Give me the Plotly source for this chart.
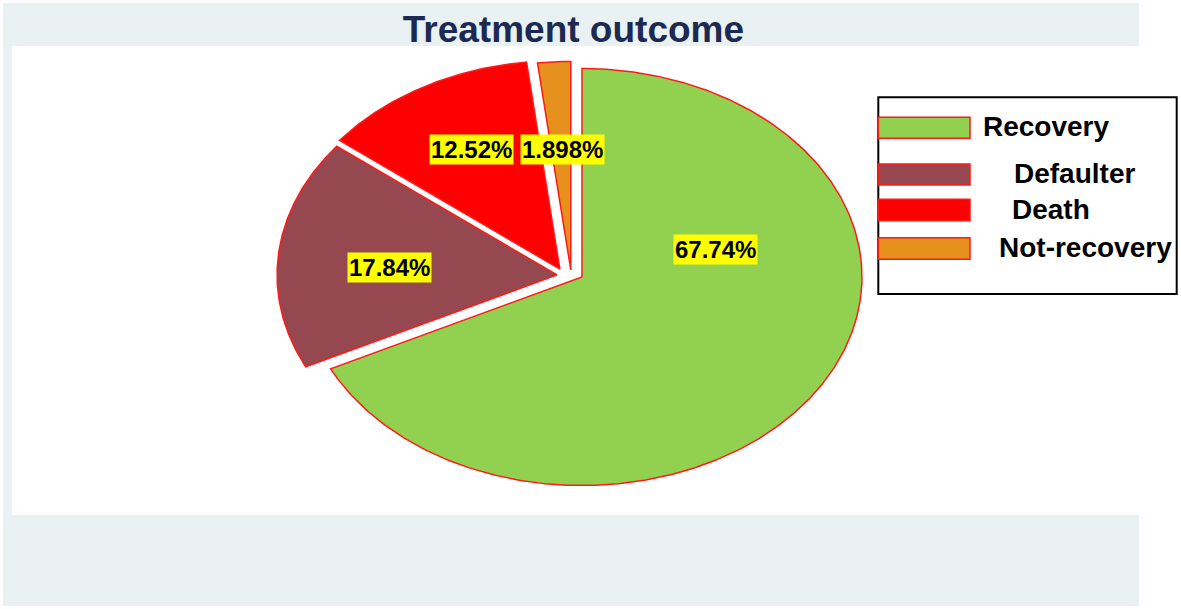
import numpy as np
import plotly.graph_objects as go

# ---------------- data ----------------
categories = ["Recovery", "Defaulter", "Death", "Not-recovery"]
percentages = [67.74, 17.84, 12.52, 1.898]
title_text = "Treatment outcome"

# ---------------- styles ----------------
slice_colors = ["#92d050", "#964850", "#ff0000", "#e6911e"]
outline_color = "#ff1a1a"
# explode offsets (in pie-radius units) for each slice
explode = [(0.0, 0.0), (-0.089, 0.010), (-0.079, 0.038), (-0.040, 0.034)]
# label anchor positions in pie-radius units (relative to pie centre)
label_pos = [(0.4775, 0.131), (-0.6875, 0.044), (-0.394, 0.6115), (-0.0696, 0.6115)]
# legend text x positions (px) and row centres (px)
legend_text_x = [981, 1012, 1010, 997]
legend_rows = [(117.3, 138.3), (164, 185), (199.3, 220.7), (237.7, 259.3)]

W, H = 1181, 609
CX, CY, RX, RY = 582, 277, 280, 208.5


def px(x):
    return x / W


def py(y):
    return 1 - y / H


fig = go.Figure()

total = sum(percentages)
cum = 0.0
for name, val, col, (dx, dy) in zip(categories, percentages, slice_colors, explode):
    a0 = cum / total * 2 * np.pi
    a1 = (cum + val) / total * 2 * np.pi
    cum += val
    n = max(int((a1 - a0) / (2 * np.pi) * 720), 8)
    th = np.linspace(a0, a1, n)
    xs = np.concatenate([[dx], dx + np.sin(th), [dx]])
    ys = np.concatenate([[dy], dy + np.cos(th), [dy]])
    fig.add_trace(go.Scatter(
        x=xs, y=ys, mode="lines", fill="toself", fillcolor=col,
        line=dict(color=outline_color, width=1.5), name=name,
        showlegend=False, hoverinfo="name",
    ))

# slice labels
for val, (lx, ly) in zip(percentages, label_pos):
    fig.add_annotation(
        x=lx, y=ly, xref="x", yref="y", text=f"<b>{val:.4g}%</b>",
        showarrow=False, bgcolor="#ffff00", borderpad=1,
        font=dict(family="Liberation Sans, Arial, sans-serif", size=24, color="black"),
    )

shapes = [
    # outer grey frame
    dict(type="rect", xref="paper", yref="paper", x0=px(3), x1=px(1139), y0=py(606), y1=py(3),
         fillcolor="#e9f1f3", line=dict(width=0), layer="below"),
    # inner white plot region
    dict(type="rect", xref="paper", yref="paper", x0=px(12), x1=px(1139), y0=py(515), y1=py(46),
         fillcolor="white", line=dict(width=0), layer="below"),
    # legend box
    dict(type="rect", xref="paper", yref="paper", x0=px(878.3), x1=px(1176.7), y0=py(294), y1=py(97.3),
         fillcolor="white", line=dict(color="black", width=2), layer="above"),
]
for col, (t, b) in zip(slice_colors, legend_rows):
    shapes.append(dict(type="rect", xref="paper", yref="paper", x0=px(878.3), x1=px(970),
                       y0=py(b), y1=py(t), fillcolor=col,
                       line=dict(color=outline_color, width=1.5), layer="above"))

for name, tx, (t, b) in zip(categories, legend_text_x, legend_rows):
    fig.add_annotation(
        x=px(tx), y=py((t + b) / 2 - 1), xref="paper", yref="paper", xanchor="left", yanchor="middle",
        text=f"<b>{name}</b>", showarrow=False,
        font=dict(family="Liberation Sans, Arial, sans-serif", size=28, color="black"),
    )

fig.update_layout(
    width=W, height=H,
    margin=dict(l=0, r=0, t=0, b=0),
    paper_bgcolor="white", plot_bgcolor="rgba(0,0,0,0)",
    shapes=shapes,
    title=dict(text=f"<b>{title_text}</b>", x=573.4 / W, xanchor="center", xref="paper",
               y=1 - 15.8 / H, yanchor="top", yref="container", pad=dict(t=0, b=0, l=0, r=0),
               font=dict(family="Liberation Sans, Arial, sans-serif", size=37, color="#1c2a52")),
    xaxis=dict(range=[-CX / RX, (W - CX) / RX], visible=False, domain=[0, 1], fixedrange=True),
    yaxis=dict(range=[-(H - CY) / RY, CY / RY], visible=False, domain=[0, 1], fixedrange=True),
    showlegend=False,
)

fig.write_html(
    "out.html",
    config={"displayModeBar": False},
    post_script="document.body.style.margin='0px'; document.body.style.overflow='hidden';",
)
